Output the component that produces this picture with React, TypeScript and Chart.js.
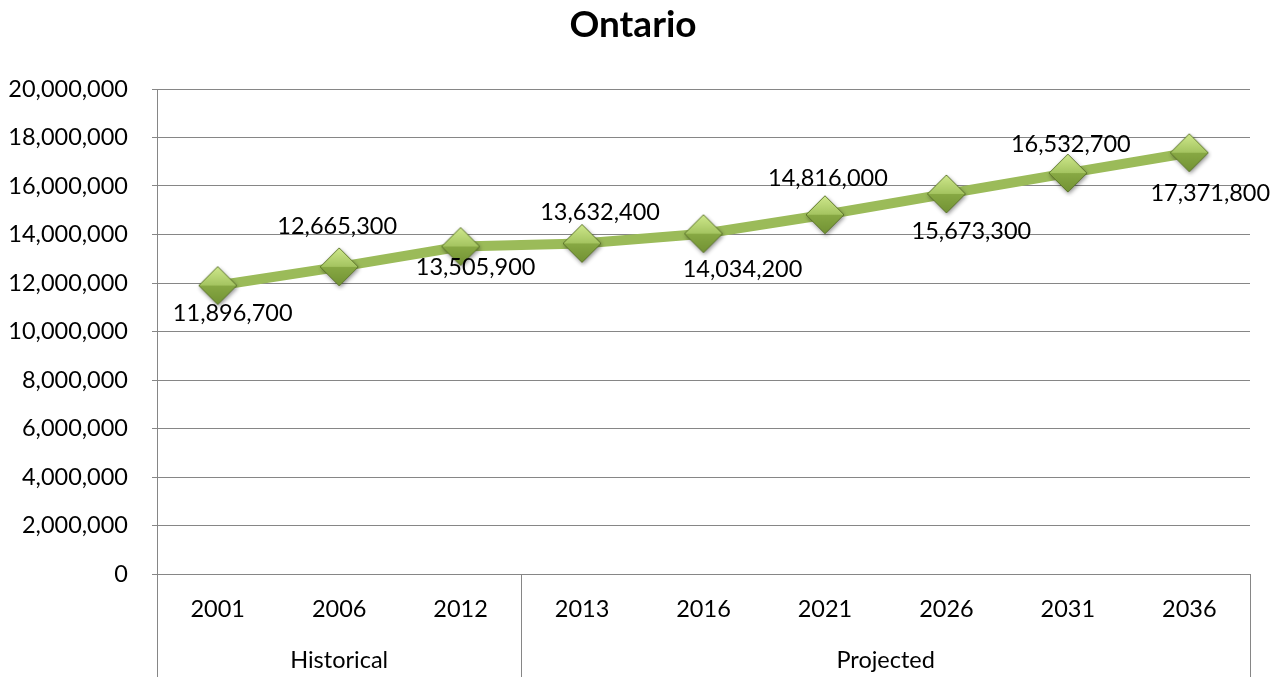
import React, { useEffect, useRef } from "react";
import { Chart, registerables } from "chart.js";

Chart.register(...registerables);

const chartTitle = "Ontario";
const years = ["2001", "2006", "2012", "2013", "2016", "2021", "2026", "2031", "2036"];
const population = [11896700, 12665300, 13505900, 13632400, 14034200, 14816000, 15673300, 16532700, 17371800];
const groupLabels = ["Historical", "Projected"];
const groupSizes = [3, 6];
const yMin = 0;
const yMax = 20000000;
const yStep = 2000000;
// label placement relative to each point (px)
const labelOffsetX = [15, -2, 15, 18, 39, 3, 25, 3, 21];
const labelOffsetY = [28, -40, 21, -31, 36, -36, 37, -29, 41];

const FONT = "Lato, 'Open Sans', sans-serif";
const GRID = "#868686";
const LINE = "#9bbb59";

const fmt = (v: number) => v.toLocaleString("en-US");

function makeDiamond(): HTMLCanvasElement {
  const s = 48;
  const c = document.createElement("canvas");
  c.width = s;
  c.height = s;
  const g = c.getContext("2d")!;
  const cx = 24, cy = 24, r = 19;
  const path = () => {
    g.beginPath();
    g.moveTo(cx, cy - r);
    g.lineTo(cx + r, cy);
    g.lineTo(cx, cy + r);
    g.lineTo(cx - r, cy);
    g.closePath();
  };
  g.save();
  g.shadowColor = "rgba(0,0,0,0.45)";
  g.shadowBlur = 4;
  g.shadowOffsetX = 1;
  g.shadowOffsetY = 2;
  path();
  g.fillStyle = "#8aab47";
  g.fill();
  g.restore();
  const gt = g.createLinearGradient(0, cy - r, 0, cy);
  gt.addColorStop(0, "#cfe88c");
  gt.addColorStop(1, "#a4c460");
  g.beginPath();
  g.moveTo(cx, cy - r);
  g.lineTo(cx + r, cy);
  g.lineTo(cx - r, cy);
  g.closePath();
  g.fillStyle = gt;
  g.fill();
  const gb = g.createLinearGradient(0, cy, 0, cy + r);
  gb.addColorStop(0, "#88a944");
  gb.addColorStop(1, "#729234");
  g.beginPath();
  g.moveTo(cx - r, cy);
  g.lineTo(cx + r, cy);
  g.lineTo(cx, cy + r);
  g.closePath();
  g.fillStyle = gb;
  g.fill();
  path();
  g.strokeStyle = "rgba(85,110,38,0.9)";
  g.lineWidth = 1;
  g.stroke();
  return c;
}

const overlayPlugin = {
  id: "overlay",
  afterDraw(chart: any) {
    const { ctx, chartArea, scales } = chart;
    const xs = scales.x;
    const meta = chart.getDatasetMeta(0);
    ctx.save();
    ctx.fillStyle = "#000";
    ctx.textAlign = "center";
    ctx.textBaseline = "middle";
    ctx.font = `bold 37px ${FONT}`;
    ctx.fillText(chartTitle, 633, 25);
    ctx.font = `23.5px ${FONT}`;
    meta.data.forEach((pt: any, i: number) => {
      ctx.fillText(fmt(population[i]), pt.x + labelOffsetX[i], pt.y + labelOffsetY[i]);
    });
    years.forEach((yr, i) => {
      ctx.fillText(yr, xs.getPixelForValue(i), chartArea.bottom + 35);
    });
    ctx.strokeStyle = GRID;
    ctx.lineWidth = 1;
    let start = 0;
    const bounds: number[] = [xs.getPixelForValue(-0.5)];
    groupLabels.forEach((lab, gi) => {
      const end = start + groupSizes[gi] - 1;
      const left = xs.getPixelForValue(start - 0.5);
      const right = xs.getPixelForValue(end + 0.5);
      ctx.fillText(lab, (left + right) / 2, chartArea.bottom + 86);
      bounds.push(right);
      start = end + 1;
    });
    bounds.forEach((bx) => {
      const px = Math.round(bx) + 0.5;
      ctx.beginPath();
      ctx.moveTo(px, chartArea.bottom);
      ctx.lineTo(px, chart.height);
      ctx.stroke();
    });
    ctx.restore();
  },
};

export default function App() {
  const ref = useRef<HTMLCanvasElement>(null);
  useEffect(() => {
    if (!ref.current) return;
    const diamond = makeDiamond();
    const chart = new Chart(ref.current, {
      type: "line",
      data: {
        labels: years,
        datasets: [
          {
            data: population,
            borderColor: LINE,
            backgroundColor: LINE,
            borderWidth: 10,
            pointStyle: diamond as any,
            pointRadius: 19,
            pointHoverRadius: 19,
            tension: 0,
            fill: false,
          },
        ],
      },
      options: {
        animation: false,
        responsive: false,
        devicePixelRatio: 1,
        layout: { padding: { top: 89, right: 34, left: 0, bottom: 0 } },
        plugins: {
          legend: { display: false },
          title: { display: false },
          tooltip: { enabled: false },
        },
        scales: {
          x: {
            type: "category",
            offset: true,
            grid: { display: false },
            border: { display: false },
            ticks: { display: false },
            afterFit: (s: any) => {
              s.height = 103;
            },
          },
          y: {
            min: yMin,
            max: yMax,
            ticks: {
              stepSize: yStep,
              color: "#000",
              padding: 24,
              font: { family: FONT, size: 23.5 },
              callback: (v: any) => fmt(Number(v)),
            },
            grid: { color: GRID, lineWidth: 1, tickLength: 5, drawTicks: true },
            border: { display: true, color: GRID, width: 1 },
            afterFit: (s: any) => {
              s.width = 157;
            },
          },
        },
      },
      plugins: [overlayPlugin],
    });
    return () => chart.destroy();
  }, []);
  return (
    <div style={{ position: "fixed", left: 0, top: 0, width: 1284, height: 677, background: "#fff" }}>
      <canvas ref={ref} width={1284} height={677} style={{ display: "block" }} />
    </div>
  );
}
